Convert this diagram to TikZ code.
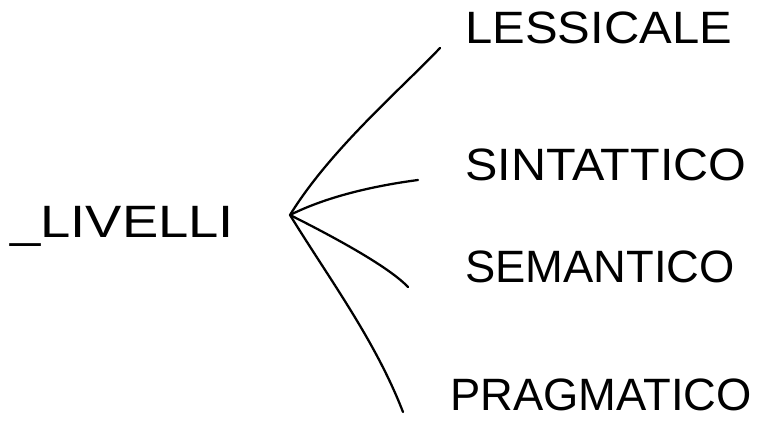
\documentclass[tikz,border=0pt]{standalone}
\usepackage{fontspec}
\setmainfont{Liberation Sans}
\begin{document}
\begin{tikzpicture}[x=0.75pt,y=-0.75pt,
  lbl/.style={anchor=west,inner sep=0pt,font=\fontsize{34}{40}\selectfont},
  branch/.style={line width=1.7pt,line cap=round}]
\useasboundingbox (0,0) rectangle (760,439);
\node[lbl] (liv) at (10,226) {\scalebox{1.2}[1]{\_LIVELLI}};
\node[lbl] (les) at (465,28) {\scalebox{1.08}[1]{LESSICALE}};
\node[lbl] (sin) at (465,165) {\scalebox{1.07}[1]{SINTATTICO}};
\node[lbl] (sem) at (465,267) {SEMANTICO};
\node[lbl] (pra) at (450,395) {PRAGMATICO};
\coordinate (b) at (290,215);
\coordinate (e1) at (440,48);
\coordinate (e2) at (418,180);
\coordinate (e3) at (408,287);
\coordinate (e4) at (403,412);
\draw[branch] (b) .. controls (330,150) and (400,90) .. (e1);
\draw[branch] (b) .. controls (330,195) and (380,185) .. (e2);
\draw[branch] (b) .. controls (340,240) and (390,268) .. (e3);
\draw[branch] (b) .. controls (330,280) and (375,340) .. (e4);
\end{tikzpicture}
\end{document}
